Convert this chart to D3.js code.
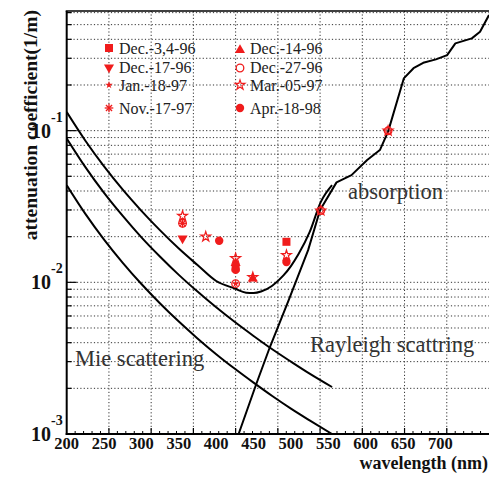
<!DOCTYPE html>
<html><head><meta charset="utf-8">
<script src="https://cdn.jsdelivr.net/npm/d3@7"></script>
<style>body{margin:0;background:#fff}svg{display:block}</style>
</head><body><svg id="c" width="489" height="477"></svg>
<script>
// ---- data ----
const scatterWl = [200,225,250,275,300,325,350,375,400,425,450,475,500,525,555];
const rayleigh  = [0.0889,0.0575,0.0389,0.0274,0.0198,0.01475,0.0112,0.00869,0.00684,0.00547,0.00443,0.00362,0.0030,0.0025,0.00204];
const mie       = [0.0437,0.02827,0.01914,0.01345,0.00975,0.00725,0.00551,0.00427,0.00336,0.00269,0.00218,0.00178,0.00147,0.00123,0.00100];
const totalWl   = [200,225,250,275,300,325,350,375,400,425,440,450,460,475,490,500,510,525,540,555];
const total     = [0.1326,0.0858,0.0581,0.0408,0.0296,0.0220,0.0167,0.0130,0.0102,0.0091,0.00855,0.0085,0.00869,0.0095,0.0111,0.0128,0.0153,0.0214,0.0339,0.0437];
const absWl     = [430,454,472,497,523,539,561,581,602,619,630,651,664,677,694,709,720,742,753,765];
const absorption= [0.0010,0.00216,0.00376,0.00764,0.0163,0.0300,0.0456,0.0509,0.064,0.0745,0.0985,0.221,0.258,0.280,0.295,0.315,0.376,0.406,0.449,0.578];

const seriesNames = ["Dec.-3,4-96","Dec.-14-96","Dec.-17-96","Dec.-27-96","Jan.-18-97","Mar.-05-97","Nov.-17-97","Apr.-18-98"];
const dec0304_96 = {wl:[426,494], v:[0.0125,0.0185]};
const dec14_96   = {wl:[426,449], v:[0.0134,0.0106]};
const dec17_96   = {wl:[355], v:[0.0195]};
const dec27_96   = {wl:[355,426,540,630], v:[0.0245,0.0098,0.0297,0.0998]};
const jan18_97   = {wl:[426], v:[0.0098]};
const mar05_97   = {wl:[355,386,426,449,494,540,630], v:[0.0274,0.0200,0.0144,0.0108,0.0151,0.0297,0.0998]};
const nov17_97   = {wl:[355], v:[0.0245]};
const apr18_98   = {wl:[404,426,494], v:[0.0188,0.0121,0.0136]};

const xTickLabels = [200,250,300,350,400,450,500,550,600,650,700];
const yDecades = [-3,-2,-1];

// ---- layout ----
const svg = d3.select("#c");
const L = 66.7, R = 489, T = 11, B = 434;
const x = d3.scaleLinear().domain([200,765]).range([L,R]);
const y = d3.scaleLog().domain([1e-3,0.615]).range([B,T]);
const red = "#f01c1c";
const serif = "'Liberation Serif','Times New Roman',serif";

// grid (vertical: 10 equal divisions)
const xDivs = d3.range(1,10).map(i => 200 + i*56.5);
svg.append("g").selectAll("line").data(xDivs).join("line")
  .attr("x1",d=>x(d)).attr("x2",d=>x(d)).attr("y1",T).attr("y2",B)
  .attr("stroke","#333").attr("stroke-width",1).attr("stroke-dasharray","1.2,2.2");
const yGrid = [];
yDecades.forEach(e => { for (let m=1;m<=9;m++){ const v=m*Math.pow(10,e); if (v>1e-3 && v<0.615) yGrid.push(v);} });
svg.append("g").selectAll("line").data(yGrid).join("line")
  .attr("x1",L).attr("x2",R).attr("y1",d=>y(d)).attr("y2",d=>y(d))
  .attr("stroke","#333").attr("stroke-width",1).attr("stroke-dasharray","1.2,2.2");

// y ticks
svg.append("g").selectAll("line").data(yGrid).join("line")
  .attr("x1",L).attr("x2",d=> Math.abs(Math.log10(d)-Math.round(Math.log10(d)))<1e-6 ? L+10 : L+5)
  .attr("y1",d=>y(d)).attr("y2",d=>y(d)).attr("stroke","#000").attr("stroke-width",1.2);
// x ticks (major at divisions, 5 minor)
const xMinor = d3.range(1,50).map(i=>200+i*11.3).filter((d,i)=>(i+1)%5!==0);
svg.append("g").selectAll("line").data(xDivs).join("line")
  .attr("x1",d=>x(d)).attr("x2",d=>x(d)).attr("y1",B).attr("y2",B-6)
  .attr("stroke","#000").attr("stroke-width",1.2);
svg.append("g").selectAll("line").data(xMinor).join("line")
  .attr("x1",d=>x(d)).attr("x2",d=>x(d)).attr("y1",B).attr("y2",B-3)
  .attr("stroke","#000").attr("stroke-width",1);

// curves
const smooth = d3.line().x(d=>x(d[0])).y(d=>y(d[1])).curve(d3.curveMonotoneX);
const straight = d3.line().x(d=>x(d[0])).y(d=>y(d[1]));
svg.append("clipPath").attr("id","pa").append("rect").attr("x",L).attr("y",T).attr("width",R-L).attr("height",B-T);
const cg = svg.append("g").attr("clip-path","url(#pa)");
[[scatterWl,rayleigh,smooth],[scatterWl,mie,smooth],[totalWl,total,smooth],[absWl,absorption,straight]].forEach(([w,v,gen])=>{
  cg.append("path").datum(w.map((d,i)=>[d,v[i]])).attr("d",gen)
    .attr("fill","none").attr("stroke","#000").attr("stroke-width",2).attr("stroke-linejoin","round");
});

// markers
function marker(g, type, px, py){
  if (type==="square") g.append("rect").attr("x",px-4).attr("y",py-4).attr("width",8).attr("height",8).attr("fill",red);
  else if (type==="triup") g.append("path").attr("d",d3.symbol(d3.symbolTriangle,44)()).attr("transform",`translate(${px},${py})`).attr("fill",red);
  else if (type==="tridown") g.append("path").attr("d",d3.symbol(d3.symbolTriangle,44)()).attr("transform",`translate(${px},${py}) rotate(180)`).attr("fill",red);
  else if (type==="ocircle") g.append("circle").attr("cx",px).attr("cy",py).attr("r",3.8).attr("fill","none").attr("stroke",red).attr("stroke-width",1.3);
  else if (type==="fcircle") g.append("circle").attr("cx",px).attr("cy",py).attr("r",4.2).attr("fill",red);
  else if (type==="sstar") g.append("path").attr("d",d3.symbol(d3.symbolStar,18)()).attr("transform",`translate(${px},${py})`).attr("fill",red);
  else if (type==="ostar") g.append("path").attr("d",d3.symbol(d3.symbolStar,30)()).attr("transform",`translate(${px},${py})`).attr("fill","none").attr("stroke",red).attr("stroke-width",1.2);
  else if (type==="asterisk"){
    const r=4.3; const gg=g.append("g").attr("transform",`translate(${px},${py})`).attr("stroke",red).attr("stroke-width",1.3);
    [0,45,90,135].forEach(a=>{const t=a*Math.PI/180; gg.append("line").attr("x1",-r*Math.cos(t)).attr("y1",-r*Math.sin(t)).attr("x2",r*Math.cos(t)).attr("y2",r*Math.sin(t));});
  }
}
const seriesList = [
  [dec0304_96,"square"],[dec14_96,"triup"],[dec17_96,"tridown"],[dec27_96,"ocircle"],
  [jan18_97,"sstar"],[mar05_97,"ostar"],[nov17_97,"asterisk"],[apr18_98,"fcircle"]
];
const mg = svg.append("g");
seriesList.forEach(([s,t])=> s.wl.forEach((w,i)=> marker(mg,t,x(w),y(s.v[i]))));

// legend
const legPos = [[109,48],[240,50],[109,67.5],[240,68],[109,85],[240,85],[109,108],[240,108]];
const legTextPos = [[119,54],[250,54],[119,73],[250,73],[119,91],[250,91],[119,114],[250,114]];
const lg = svg.append("g");
seriesList.forEach(([s,t],i)=>{
  marker(lg,t,legPos[i][0],legPos[i][1]);
  lg.append("text").attr("x",legTextPos[i][0]).attr("y",legTextPos[i][1]).text(seriesNames[i])
    .attr("font-family",serif).attr("font-size",16).attr("fill","#222");
});

// frame
svg.append("line").attr("x1",L).attr("x2",L).attr("y1",T).attr("y2",B+1).attr("stroke","#000").attr("stroke-width",2);
svg.append("line").attr("x1",L-1).attr("x2",R).attr("y1",B).attr("y2",B).attr("stroke","#000").attr("stroke-width",2);
svg.append("line").attr("x1",L-1).attr("x2",R).attr("y1",T).attr("y2",T).attr("stroke","#000").attr("stroke-width",1.5);

// axis labels
svg.append("g").selectAll("text").data(xTickLabels).join("text")
  .attr("x",d=>x(d)).attr("y",449).attr("text-anchor","middle").text(d=>d)
  .attr("font-family",serif).attr("font-weight","bold").attr("font-size",16.5).attr("fill","#111");
const yl = svg.append("g");
yDecades.forEach(e=>{
  const py = y(Math.pow(10,e));
  yl.append("text").attr("x",51).attr("y",py+7).attr("text-anchor","end").text("10")
    .attr("font-family",serif).attr("font-weight","bold").attr("font-size",20).attr("fill","#111");
  yl.append("text").attr("x",51).attr("y",py-9).text("-"+(-e))
    .attr("font-family",serif).attr("font-weight","bold").attr("font-size",14).attr("fill","#111");
});
svg.append("text").attr("x",488).attr("y",469).attr("text-anchor","end").text("wavelength (nm)")
  .attr("font-family",serif).attr("font-weight","bold").attr("font-size",18).attr("fill","#111");
svg.append("text").attr("transform","translate(37,10) rotate(-90)").attr("text-anchor","end").text("attenuation coefficient(1/m)")
  .attr("font-family",serif).attr("font-weight","bold").attr("font-size",19.5).attr("fill","#111");

// annotations
const ann = [["absorption",348,199],["Mie scattering",75,366],["Rayleigh scattring",310,352]];
svg.append("g").selectAll("text").data(ann).join("text")
  .attr("x",d=>d[1]).attr("y",d=>d[2]).text(d=>d[0])
  .attr("font-family",serif).attr("font-size",22.5).attr("fill","#333");
</script></body></html>
